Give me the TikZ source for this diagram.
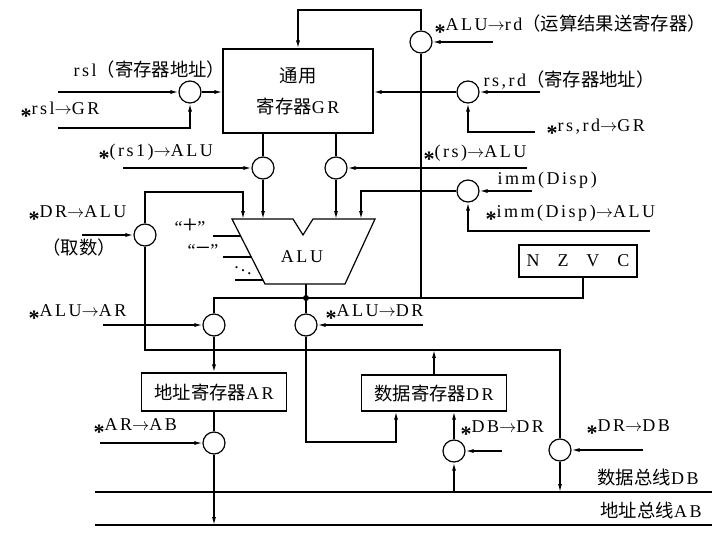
\documentclass[tikz,border=0pt]{standalone}
\usepackage{fontspec}
\setmainfont[LetterSpace=14]{Liberation Serif}
\newfontfamily\cjk[Scale=1.02]{Noto Sans CJK SC}
\usetikzlibrary{arrows.meta}

% 控制信号前的星号
\newcommand{\ctl}{\raisebox{-1.1ex}{\fontsize{22}{22}\selectfont\bfseries *}}
% 较大的运算符号
\newcommand{\bigop}[1]{{\fontsize{26}{26}\selectfont #1}}

\tikzset{
    gate/.style={draw, circle, minimum size=22pt, inner sep=0pt},
    reg/.style={draw, rectangle, inner sep=0pt},
    lbl/.style={anchor=west, inner sep=0pt},
    oplbl/.style={inner sep=0pt, text height=10pt, text depth=1pt},
}

\begin{document}
\begin{tikzpicture}[x=1pt, y=-1pt, >={Latex[length=8pt,width=4pt]}, line width=1.2pt,
                    font=\fontsize{18}{21}\selectfont]
    \useasboundingbox (0,0) rectangle (718,536);

    % ==================== 寄存器与门 ====================
    \node[reg, minimum width=150pt, minimum height=84pt, align=center] (GR) at (298,91)
        {{\cjk 通用}\\[10pt]{\cjk 寄存器}GR};
    \node[reg, minimum width=145pt, minimum height=38pt] (AR) at (214,392) {{\cjk 地址寄存器}AR};
    \node[reg, minimum width=145pt, minimum height=36pt] (DR) at (434,393) {{\cjk 数据寄存器}DR};
    \node[reg, minimum width=118pt, minimum height=32pt] (NZVC) at (578,261) {N\quad Z\quad V\quad C};

    \node[gate] (gRsl)   at (190,92)  {};
    \node[gate] (gAluRd) at (421,42)  {};
    \node[gate] (gRsRd)  at (468,92)  {};
    \node[gate] (gRs1)   at (263,168) {};
    \node[gate] (gRs)    at (336,168) {};
    \node[gate] (gImm)   at (468,191) {};
    \node[gate] (gDrAlu) at (145,235) {};
    \node[gate] (gAluAr) at (214,325) {};
    \node[gate] (gAluDr) at (306,325) {};
    \node[gate] (gArAb)  at (214,443) {};
    \node[gate] (gDbDr)  at (454,451) {};
    \node[gate] (gDrDb)  at (560,450) {};

    % ==================== ALU ====================
    \coordinate (aluTL) at (232,219);
    \coordinate (aluTR) at (375,219);
    \coordinate (aluBR) at (345,284);
    \coordinate (aluBL) at (265,284);
    \draw (aluTL) -- (293,219) -- (303,235) -- (313,219) -- (aluTR) -- (aluBR) -- (aluBL) -- cycle;
    \node (alu) at (302,257) {ALU};

    % 运算控制
    \draw (213,236) -- (240.6,236);
    \draw (223,257) -- (251.3,257);
    \draw (235,280) -- (263,280);
    \node[oplbl] (opPlus)  at (190,229) {“\bigop{+}”};
    \node[oplbl] (opMinus) at (203,252) {“\bigop{−}”};
    \node (opMore)  at (243,268) {$\ddots$};

    % ALU 输入端
    \coordinate (inA) at (243,219);
    \coordinate (inAtop) at (243,192);
    \coordinate (inD) at (361,219);
    \draw[->] (gDrAlu.north) |- (inAtop) -- (inA);
    \draw[->] (gRs1.south) -- (gRs1.south |- aluTL);
    \draw[->] (gRs.south) -- (gRs.south |- aluTL);
    \draw[->] (gImm.west) -| (inD);
    \draw (GR.south -| gRs1) -- (gRs1.north);
    \draw (GR.south -| gRs) -- (gRs.north);

    % ==================== ALU 输出 ====================
    \coordinate (aluOut) at (306,284);
    \coordinate (dot) at (306,298);
    \coordinate (flagIn) at (583,277);
    \coordinate (fbTop) at (298,10);
    \draw (aluOut) -- (dot) -- (gAluDr.north);
    \fill (dot) circle (3pt);
    \draw (gAluAr.north) |- (dot) -| (flagIn);
    \draw (gAluRd.south) -- (gAluRd.south |- dot);
    \draw[->] (gAluRd.north) |- (fbTop) -- (GR.north);

    % ==================== 通用寄存器地址 ====================
    \coordinate (rslIn)  at (58,92);
    \coordinate (rslCtl) at (58,128);
    \draw[->] (rslIn) -- (gRsl.west);
    \draw[->] (rslCtl) -| (gRsl.south);
    \draw[->] (gRsl.east) -- (GR.west |- gRsl);

    \coordinate (rsRdIn)  at (540,92);
    \coordinate (rsRdCtl) at (535,132);
    \draw[->] (rsRdIn) -- (gRsRd.east);
    \draw[->] (rsRdCtl) -| (gRsRd.south);
    \draw[->] (gRsRd.west) -- (GR.east |- gRsRd);

    \coordinate (aluRdCtl) at (493,42);
    \draw[->] (aluRdCtl) -- (gAluRd.east);

    % ==================== 送 ALU 的控制 ====================
    \coordinate (rs1Ctl) at (123,168);
    \coordinate (rsCtl)  at (527,168);
    \coordinate (immIn)  at (532,191);
    \coordinate (immCtl) at (650,231);
    \coordinate (drAluCtl) at (82,235);
    \draw[->] (rs1Ctl) -- (gRs1.west);
    \draw[->] (rsCtl) -- (gRs.east);
    \draw[->] (immIn) -- (gImm.east);
    \draw[->] (immCtl) -| (gImm.south);
    \draw[->] (drAluCtl) -- (gDrAlu.west);

    % ==================== AR / DR 与总线 ====================
    \coordinate (aluArCtl) at (103,325);
    \coordinate (aluDrCtl) at (423,325);
    \coordinate (arAbCtl)  at (100,443);
    \coordinate (dbDrCtl)  at (502,451);
    \coordinate (drDbCtl)  at (643,450);
    \coordinate (drBus)  at (434,350);
    \coordinate (drInA)  at (396,442);
    \coordinate (dbL) at (95,492);
    \coordinate (dbR) at (712,492);
    \coordinate (abL) at (95,525);
    \coordinate (abR) at (712,525);

    \draw (dbL) -- (dbR);
    \draw (abL) -- (abR);

    \draw[->] (aluArCtl) -- (gAluAr.west);
    \draw[->] (gAluAr.south) -- (AR.north);
    \draw (AR.south) -- (gArAb.north);
    \draw[->] (arAbCtl) -- (gArAb.west);
    \draw[->] (gArAb.south) -- (gArAb.south |- abL);

    \draw[->] (aluDrCtl) -- (gAluDr.east);
    \draw[->] (gAluDr.south) |- (drInA) -- (DR.south -| drInA);
    \draw (gDrAlu.south) |- (drBus) -| (gDrDb.north);
    \draw[->] (DR.north -| drBus) -- (drBus);

    \draw[->] (dbDrCtl) -- (gDbDr.east);
    \draw[->] (gDbDr.north) -- (DR.south -| gDbDr);
    \draw[->] (gDbDr.south |- dbL) -- (gDbDr.south);
    \draw[->] (drDbCtl) -- (gDrDb.east);
    \draw[->] (gDrDb.south) -- (gDrDb.south |- dbL);

    % ==================== 标注 ====================
    \node[lbl] (tRsl)    at (73,70)   {rsl{\cjk（寄存器地址）}};
    \node[lbl] (tRslGR)  at (20,113)  {\ctl rsl$\rightarrow$GR};
    \node[lbl] (tRs1Alu) at (98,155)  {\ctl(rs1)$\rightarrow$ALU};
    \node[lbl] (tAluRd)  at (434,27)  {\ctl ALU$\rightarrow$rd{\cjk（运算结果送寄存器）}};
    \node[lbl] (tRsRd)   at (483,80)  {rs,rd{\cjk（寄存器地址）}};
    \node[lbl] (tRsRdGR) at (546,130) {\ctl rs,rd$\rightarrow$GR};
    \node[lbl] (tRsAlu)  at (423,156) {\ctl(rs)$\rightarrow$ALU};
    \node[lbl] (tImm)    at (497,180) {imm(Disp)};
    \node[lbl] (tImmAlu) at (485,216) {\ctl imm(Disp)$\rightarrow$ALU};
    \node[lbl] (tDrAlu)  at (28,216)  {\ctl DR$\rightarrow$ALU};
    \node[lbl] (tFetch)  at (42,248)  {\cjk（取数）};
    \node[lbl] (tAluAr)  at (28,315)  {\ctl ALU$\rightarrow$AR};
    \node[lbl] (tAluDr)  at (325,315) {\ctl ALU$\rightarrow$DR};
    \node[lbl] (tArAb)   at (93,429)  {\ctl AR$\rightarrow$AB};
    \node[lbl] (tDbDr)   at (460,431) {\ctl DB$\rightarrow$DR};
    \node[lbl] (tDrDb)   at (586,430) {\ctl DR$\rightarrow$DB};
    \node[lbl] (tDB)     at (597,478) {{\cjk 数据总线}DB};
    \node[lbl] (tAB)     at (600,510) {{\cjk 地址总线}AB};

\end{tikzpicture}
\end{document}
